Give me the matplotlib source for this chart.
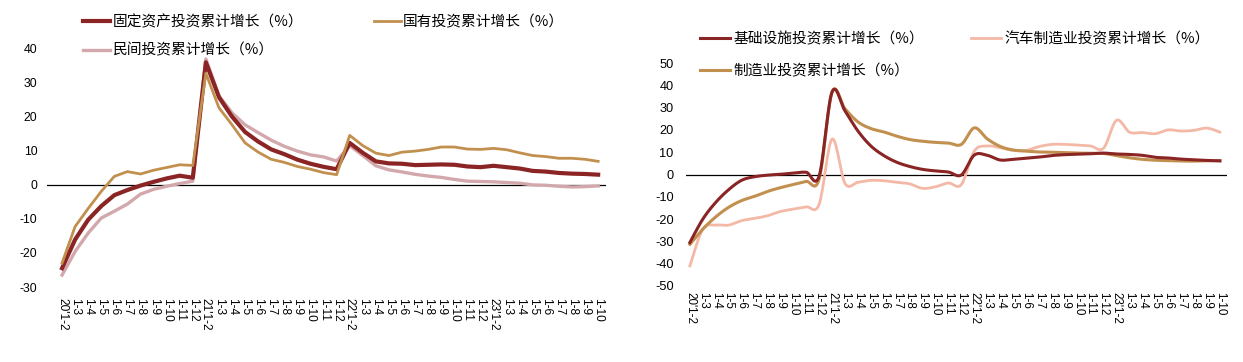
import numpy as np
import matplotlib
matplotlib.use("Agg")
import matplotlib.pyplot as plt

plt.rcParams['font.family'] = ['Noto Sans CJK SC', 'DejaVu Sans']
plt.rcParams['axes.unicode_minus'] = False

# ---------------- data ----------------
months = ["1-2", "1-3", "1-4", "1-5", "1-6", "1-7", "1-8", "1-9", "1-10", "1-11", "1-12"]
tick_labels = (["20'1-2"] + months[1:] + ["21'1-2"] + months[1:] +
               ["22'1-2"] + months[1:] + ["23'1-2"] + months[1:9])

# left panel
fixed_asset = [-24.5, -16.1, -10.3, -6.3, -3.1, -1.6, -0.3, 0.8, 1.8, 2.6, 2.0,
               35.8, 25.6, 19.9, 15.4, 12.6, 10.3, 8.9, 7.3, 6.1, 5.2, 4.5,
               12.2, 9.3, 6.8, 6.2, 6.1, 5.7, 5.8, 5.9, 5.8, 5.3, 5.1,
               5.5, 5.1, 4.7, 4.0, 3.8, 3.4, 3.2, 3.1, 2.9]
state_owned = [-23.0, -12.3, -7.0, -2.0, 2.4, 3.8, 3.1, 4.2, 5.0, 5.8, 5.6,
               32.6, 22.5, 17.5, 12.2, 9.5, 7.4, 6.5, 5.3, 4.5, 3.5, 2.9,
               14.4, 11.4, 9.2, 8.5, 9.5, 9.8, 10.3, 11.0, 11.0, 10.4, 10.3,
               10.6, 10.2, 9.3, 8.5, 8.2, 7.7, 7.7, 7.4, 6.8]
private = [-26.5, -19.6, -14.2, -9.8, -7.8, -5.7, -2.8, -1.4, -0.5, 0.3, 1.0,
           36.8, 26.0, 21.0, 17.5, 15.2, 13.0, 11.2, 9.8, 8.7, 8.1, 6.9,
           11.4, 8.5, 5.5, 4.3, 3.7, 3.0, 2.5, 2.1, 1.5, 1.0, 0.9,
           0.8, 0.6, 0.4, -0.1, -0.2, -0.5, -0.7, -0.6, -0.4]

# right panel
infrastructure = [-30.5, -20.0, -12.5, -6.8, -2.6, -1.0, -0.3, 0.1, 0.6, 1.0, -0.7,
                  37.0, 28.5, 19.5, 12.8, 8.5, 5.5, 3.6, 2.3, 1.6, 1.1, -0.2,
                  8.7, 8.6, 6.5, 6.8, 7.3, 7.8, 8.5, 8.9, 9.1, 9.3, 9.6,
                  9.2, 9.0, 8.6, 7.7, 7.4, 6.9, 6.6, 6.3, 6.1]
auto_mfg = [-41.0, -24.5, -22.7, -22.7, -20.7, -19.7, -18.5, -16.6, -15.5, -14.5, -13.3,
            15.9, -4.0, -3.5, -2.6, -2.8, -3.5, -4.2, -6.2, -5.5, -3.8, -4.5,
            10.5, 12.8, 12.0, 10.8, 10.8, 12.5, 13.5, 13.5, 13.2, 12.8, 11.8,
            24.3, 19.0, 18.8, 18.3, 20.0, 19.5, 19.8, 20.8, 19.0]
manufacturing = [-31.3, -24.5, -19.0, -14.7, -11.7, -9.8, -7.6, -5.9, -4.5, -3.1, -2.0,
                 37.0, 29.5, 23.6, 20.6, 19.1, 17.2, 15.7, 14.9, 14.4, 14.1, 13.5,
                 20.9, 16.0, 12.6, 11.0, 10.5, 10.1, 10.0, 9.8, 9.6, 9.5, 9.4,
                 8.5, 7.5, 6.8, 6.4, 6.2, 6.0, 6.0, 6.2, 6.2]

left_names = ["固定资产投资累计增长（%）", "国有投资累计增长（%）", "民间投资累计增长（%）"]
right_names = ["基础设施投资累计增长（%）", "汽车制造业投资累计增长（%）", "制造业投资累计增长（%）"]

C_RED = "#8B2424"
C_GOLD = "#C2904E"
C_PINK = "#D3A8AC"
C_SALMON = "#F3B8A6"


def smooth(values, n=16):
    """Excel-style smoothed line (Bezier through the data points)."""
    pts = np.column_stack([np.arange(len(values), dtype=float), np.asarray(values, float)])
    padded = np.vstack([pts[0], pts, pts[-1]])
    out = []
    t = np.linspace(0, 1, n, endpoint=False)[:, None]
    for i in range(len(pts) - 1):
        p0, p1, p2, p3 = padded[i], padded[i + 1], padded[i + 2], padded[i + 3]
        c1 = p1 + (p2 - p0) / 6.0
        c2 = p2 - (p3 - p1) / 6.0
        seg = ((1 - t) ** 3) * p1 + 3 * ((1 - t) ** 2) * t * c1 + 3 * (1 - t) * t ** 2 * c2 + t ** 3 * p2
        out.append(seg)
    out.append(pts[-1][None, :])
    arr = np.vstack(out)
    return arr[:, 0], arr[:, 1]


W, H = 1243, 362
fig = plt.figure(figsize=(W / 100, H / 100), dpi=100)


def px_axes(left, right, top, bottom):
    return fig.add_axes([left / W, 1 - bottom / H, (right - left) / W, (bottom - top) / H])


tick_font = 'Liberation Sans'
LEG_SIZE = 10.6

# ---------------- left panel ----------------
axL = px_axes(47, 606, 48, 287)
x = np.arange(len(tick_labels))
l1, = axL.plot(x, fixed_asset, color=C_RED, lw=3.0, solid_joinstyle='round')
l2, = axL.plot(x, state_owned, color=C_GOLD, lw=2.0, solid_joinstyle='round')
l3, = axL.plot(x, private, color=C_PINK, lw=2.4, solid_joinstyle='round', zorder=1.5)
axL.axhline(0, color='black', lw=0.9, zorder=0.5)
axL.set_xlim(-1.15, 41.6)
axL.set_ylim(-30, 40)
axL.set_yticks(np.arange(-30, 41, 10))
axL.set_xticks(x)
axL.set_xticklabels(tick_labels, rotation=270, fontfamily=tick_font, fontsize=8.6)
for lab in axL.get_yticklabels():
    lab.set_fontfamily(tick_font)
    lab.set_fontsize(8.8)
axL.tick_params(length=0, pad=7, axis='y')
axL.tick_params(length=0, pad=8, axis='x')
for s in axL.spines.values():
    s.set_visible(False)

fig.legend([l1, l3, l2], [left_names[0], left_names[2], left_names[1]],
           ncol=2, loc='upper left', bbox_to_anchor=(83 / W, 1 - 15 / H),
           frameon=False, borderpad=0, borderaxespad=0, handlelength=1.85,
           handletextpad=0.15, columnspacing=4.8, labelspacing=0.95,
           prop={'size': LEG_SIZE})

# ---------------- right panel ----------------
axR = px_axes(686, 1227, 63, 286)
sx, sy = smooth(infrastructure)
r1, = axR.plot(sx, sy, color=C_RED, lw=2.2, zorder=3)
sx, sy = smooth(auto_mfg)
r2, = axR.plot(sx, sy, color=C_SALMON, lw=2.0, zorder=1.5)
sx, sy = smooth(manufacturing)
r3, = axR.plot(sx, sy, color=C_GOLD, lw=2.2, zorder=2)
axR.axhline(0, color='black', lw=0.9, zorder=0.5)
axR.set_xlim(-0.3, 41.55)
axR.set_ylim(-50, 50)
axR.set_yticks(np.arange(-50, 51, 10))
axR.set_xticks(x)
axR.set_xticklabels(tick_labels, rotation=270, fontfamily=tick_font, fontsize=8.4)
for lab in axR.get_yticklabels():
    lab.set_fontfamily(tick_font)
    lab.set_fontsize(9.2)
axR.tick_params(length=0, pad=9, axis='y')
axR.tick_params(length=0, pad=4, axis='x')
for s in axR.spines.values():
    s.set_visible(False)

fig.legend([r1, r3, r2], [right_names[0], right_names[2], right_names[1]],
           ncol=2, loc='upper left', bbox_to_anchor=(700 / W, 1 - 32 / H),
           frameon=False, borderpad=0, borderaxespad=0, handlelength=2.05,
           handletextpad=0.22, columnspacing=3.2, labelspacing=1.2,
           prop={'size': LEG_SIZE})

fig.savefig("out.png", dpi=100)
